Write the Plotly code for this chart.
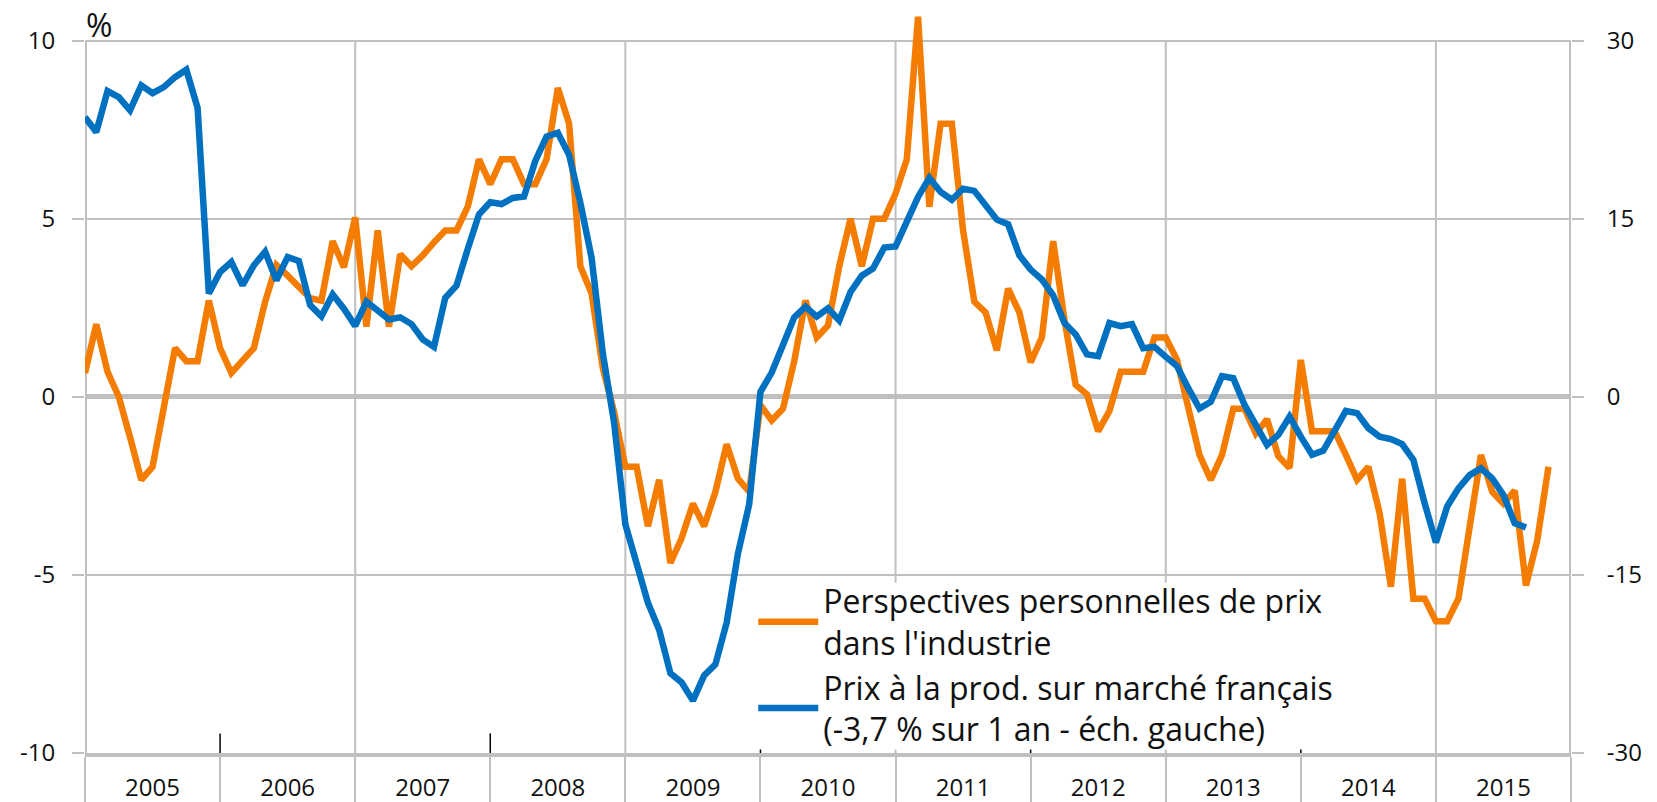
import plotly.graph_objects as go

# ---------------- data ----------------
years = ["2005", "2006", "2007", "2008", "2009", "2010", "2011", "2012", "2013", "2014", "2015"]

# Monthly, from January 2005 (index 0)
# Perspectives personnelles de prix dans l'industrie (right scale, solde)
perspectives = [
    2.0, 6.1, 2.1, 0.0, -3.4, -7.0, -5.9, -0.8, 4.1, 3.0, 3.0, 8.1,
    4.1, 2.0, 3.1, 4.1, 8.0, 11.1, 10.2, 9.2, 8.3, 8.1, 13.1, 10.9,
    15.1, 5.9, 14.0, 5.9, 12.0, 11.0, 11.9, 13.0, 14.0, 14.0, 16.0, 20.0,
    17.9, 20.0, 20.0, 17.9, 17.9, 20.0, 26.0, 23.0, 11.0, 8.7, 2.4, -1.3,
    -5.9, -5.9, -10.9, -7.0, -14.0, -11.9, -9.0, -10.9, -8.0, -4.0, -6.9, -8.0,
    -0.7, -2.0, -1.0, 3.0, 8.1, 5.0, 6.0, 11.0, 15.0, 11.0, 15.0, 15.0,
    17.1, 20.0, 32.0, 16.0, 23.0, 23.0, 14.0, 8.0, 7.1, 3.9, 9.1, 7.1,
    2.9, 5.0, 13.1, 6.5, 1.0, 0.2, -2.9, -1.2, 2.1, 2.1, 2.1, 5.0,
    5.0, 3.1, -0.9, -4.9, -7.0, -4.9, -1.0, -1.0, -3.1, -1.9, -5.0, -6.0,
    3.1, -2.9, -2.9, -2.9, -4.9, -7.0, -5.9, -9.8, -16.0, -6.9, -17.0, -17.0,
    -18.9, -18.9, -17.0, -11.2, -4.9, -8.0, -9.0, -7.9, -15.9, -12.1, -5.9,
]

# Prix a la production sur marche francais (left scale, % sur 1 an)
prix_prod = [
    7.85, 7.43, 8.58, 8.41, 8.04, 8.74, 8.52, 8.69, 8.97, 9.18, 8.11, 2.90,
    3.50, 3.78, 3.13, 3.69, 4.07, 3.27, 3.92, 3.81, 2.57, 2.26, 2.87, 2.47,
    1.99, 2.67, 2.42, 2.17, 2.23, 2.04, 1.61, 1.40, 2.78, 3.12, 4.15, 5.12,
    5.46, 5.41, 5.58, 5.62, 6.62, 7.30, 7.41, 6.79, 5.45, 3.90, 1.21, -0.73,
    -3.58, -4.70, -5.78, -6.54, -7.76, -8.02, -8.53, -7.82, -7.51, -6.34, -4.40, -3.02,
    0.14, 0.68, 1.51, 2.23, 2.53, 2.25, 2.48, 2.14, 2.94, 3.40, 3.60, 4.19,
    4.22, 4.91, 5.61, 6.14, 5.75, 5.53, 5.84, 5.78, 5.40, 4.97, 4.84, 3.97,
    3.57, 3.29, 2.85, 2.07, 1.75, 1.19, 1.14, 2.07, 1.98, 2.04, 1.36, 1.40,
    1.12, 0.86, 0.24, -0.33, -0.14, 0.58, 0.52, -0.23, -0.79, -1.35, -1.07, -0.56,
    -1.12, -1.63, -1.51, -0.98, -0.40, -0.46, -0.88, -1.12, -1.19, -1.33, -1.77, -2.99,
    -4.09, -3.08, -2.57, -2.20, -2.01, -2.29, -2.76, -3.55, -3.67,
]

left_ticks = [-10, -5, 0, 5, 10]
right_ticks = [-30, -15, 0, 15, 30]

name_orange = "Perspectives personnelles de prix<br>dans l'industrie"
name_blue = "Prix à la prod. sur marché français<br>(-3,7 % sur 1 an - éch. gauche)"

# ---------------- style ----------------
ORANGE = "#F47C00"
BLUE = "#0070C0"
GRAY = "#BFBFBF"
FONT = "Open Sans"
TXT = "#111111"

n_months = 12 * len(years)
year_centers = [12 * k + 6 for k in range(len(years))]
year_bounds = [12 * k for k in range(len(years) + 1)]

fig = go.Figure()
fig.add_trace(go.Scatter(
    x=list(range(len(perspectives))), y=perspectives, yaxis="y",
    mode="lines", name=name_orange,
    line=dict(color=ORANGE, width=6.5),
))
fig.add_trace(go.Scatter(
    x=list(range(len(prix_prod))), y=prix_prod, yaxis="y2",
    mode="lines", name=name_blue,
    line=dict(color=BLUE, width=6.5),
))

shapes = []
# vertical gridlines every two years
for b in year_bounds[2:-1:2]:
    shapes.append(dict(type="line", xref="x", yref="y", x0=b, x1=b, y0=-30, y1=30,
                       line=dict(color=GRAY, width=2), layer="below"))
# small black inner ticks at the other year boundaries
for b in year_bounds[1:-1:2]:
    shapes.append(dict(type="line", xref="x", yref="y", x0=b, x1=b, y0=-30, y1=-28.35,
                       line=dict(color="#000000", width=1.5), layer="below"))
# left and right axis lines
for b in (0, n_months):
    shapes.append(dict(type="line", xref="x", yref="y", x0=b, x1=b, y0=-30, y1=30,
                       line=dict(color=GRAY, width=4), layer="below"))
# white legend backdrop (covers gridlines, keeps the bottom axis line visible)
shapes.append(dict(type="rect", xref="x", yref="y",
                   x0=58.7, x1=113.1, y0=-29.7, y1=-15.66,
                   fillcolor="white", line=dict(width=0), layer="between"))

fig.update_layout(
    width=1649, height=794,
    margin=dict(l=76.5, r=86, t=3.5, b=49, autoexpand=False),
    paper_bgcolor="white", plot_bgcolor="white",
    font=dict(family=FONT, size=24, color=TXT),
    showlegend=True,
    legend=dict(
        x=0.4497, y=0.242, xanchor="left", yanchor="top",
        bgcolor="rgba(0,0,0,0)", borderwidth=0,
        font=dict(family=FONT, size=32, color=TXT),
        tracegroupgap=0, itemwidth=60,
    ),
    xaxis=dict(
        range=[0, n_months], anchor="y",
        tickmode="array", tickvals=year_centers, ticktext=years,
        ticks="outside", ticklen=10, tickcolor="rgba(0,0,0,0)",
        tickfont=dict(size=24, color=TXT),
        showgrid=False, zeroline=False,
        showline=True, linecolor=GRAY, linewidth=4,
        minor=dict(tickmode="array", tickvals=year_bounds, ticks="outside",
                   ticklen=49, tickcolor=GRAY, tickwidth=2, showgrid=False),
        automargin=False, fixedrange=True,
    ),
    yaxis=dict(
        side="right", range=[-30, 32.4],
        tickmode="array", tickvals=right_ticks, ticktext=[str(v) for v in right_ticks],
        ticks="outside", ticklen=12, tickcolor=GRAY, tickwidth=2,
        ticklabelstandoff=18,
        showgrid=True, gridcolor=GRAY, gridwidth=2,
        zeroline=True, zerolinecolor=GRAY, zerolinewidth=5,
        showline=False, automargin=False, fixedrange=True,
        tickfont=dict(size=24, color=TXT),
    ),
    yaxis2=dict(
        overlaying="y", side="left", range=[-10, 10.8], anchor="x",
        tickmode="array", tickvals=left_ticks, ticktext=[str(v) for v in left_ticks],
        ticks="outside", ticklen=12, tickcolor=GRAY, tickwidth=2,
        ticklabelstandoff=12,
        showgrid=False, zeroline=False, showline=False,
        automargin=False, fixedrange=True,
        tickfont=dict(size=24, color=TXT),
    ),
    shapes=shapes,
    annotations=[dict(text="%", xref="paper", yref="paper", x=0.0091, y=0.983,
                      xanchor="center", yanchor="middle", showarrow=False,
                      font=dict(family=FONT, size=32, color=TXT))],
)

fig.write_html("out.html")
